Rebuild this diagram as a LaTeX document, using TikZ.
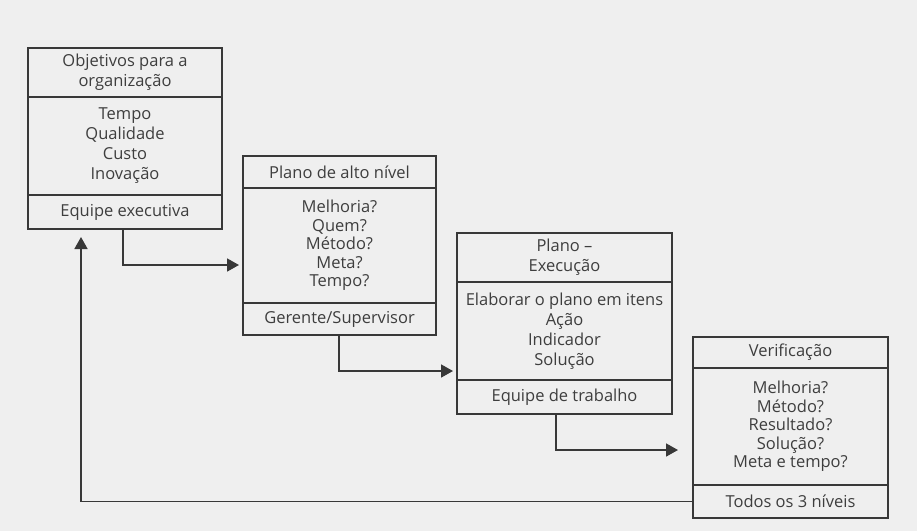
\documentclass[tikz,border=0pt]{standalone}
\usepackage{fontspec}
\setmainfont{Open Sans}
\usetikzlibrary{arrows.meta,calc}
\definecolor{paper}{HTML}{EFEFEF}
\definecolor{ink}{HTML}{383838}
\definecolor{txt}{HTML}{3E3E3E}
\begin{document}
\begin{tikzpicture}[x=1pt,y=-1pt,
  sect/.style={draw=ink, line width=1.7pt, inner sep=0pt, outer sep=0pt,
    anchor=north west, align=center, text=txt,
    font=\fontsize{16.5}{20}\selectfont},
  tight/.style={font=\fontsize{16.5}{18.5}\selectfont},
  link/.style={draw=ink, line width=1.7pt,
    -{Triangle[length=12pt,width=13pt]}}]
\useasboundingbox (0,0) rectangle (917,531);
\fill[paper] (0,0) rectangle (917,531);

% Objetivos para a organizacao
\node[sect, minimum width=194pt, minimum height=49pt] (b1t) at (28,48)
  {Objetivos para a\\organização};
\node[sect, minimum width=194pt, minimum height=98pt] (b1m) at (b1t.south west)
  {Tempo\\Qualidade\\Custo\\Inovação};
\node[sect, minimum width=194pt, minimum height=34pt] (b1b) at (b1m.south west)
  {Equipe executiva};

% Plano de alto nivel
\node[sect, minimum width=193pt, minimum height=32pt] (b2t) at (243,156)
  {Plano de alto nível};
\node[sect, tight, minimum width=193pt, minimum height=115pt] (b2m) at (b2t.south west)
  {Melhoria?\\Quem?\\Método?\\Meta?\\Tempo?};
\node[sect, minimum width=193pt, minimum height=32pt] (b2b) at (b2m.south west)
  {Gerente/Supervisor};

% Plano - Execucao
\node[sect, minimum width=215pt, minimum height=49pt] (b3t) at (457,233)
  {Plano –\\Execução};
\node[sect, minimum width=215pt, minimum height=98pt] (b3m) at (b3t.south west)
  {Elaborar o plano em itens\\Ação\\Indicador\\Solução};
\node[sect, minimum width=215pt, minimum height=34pt] (b3b) at (b3m.south west)
  {Equipe de trabalho};

% Verificacao
\node[sect, minimum width=195pt, minimum height=31pt] (b4t) at (693,337)
  {Verificação};
\node[sect, tight, minimum width=195pt, minimum height=117pt] (b4m) at (b4t.south west)
  {Melhoria?\\Método?\\Resultado?\\Solução?\\Meta e tempo?};
\node[sect, minimum width=195pt, minimum height=33pt] (b4b) at (b4m.south west)
  {Todos os 3 níveis};

% Connectors
\draw[link] ($(b1b.south west)+(95,0)$) |- ($(b2m.south west)+(-4,-38)$);
\draw[link] ($(b2b.south west)+(96,0)$) |- ($(b3m.south west)+(-4,-9)$);
\draw[link] ($(b3b.south west)+(99,0)$) |- ($(b4m.south west)+(-15,-35)$);
\draw[link] (b4b.west) -| ($(b1b.south west)+(53,8)$);
\end{tikzpicture}
\end{document}
